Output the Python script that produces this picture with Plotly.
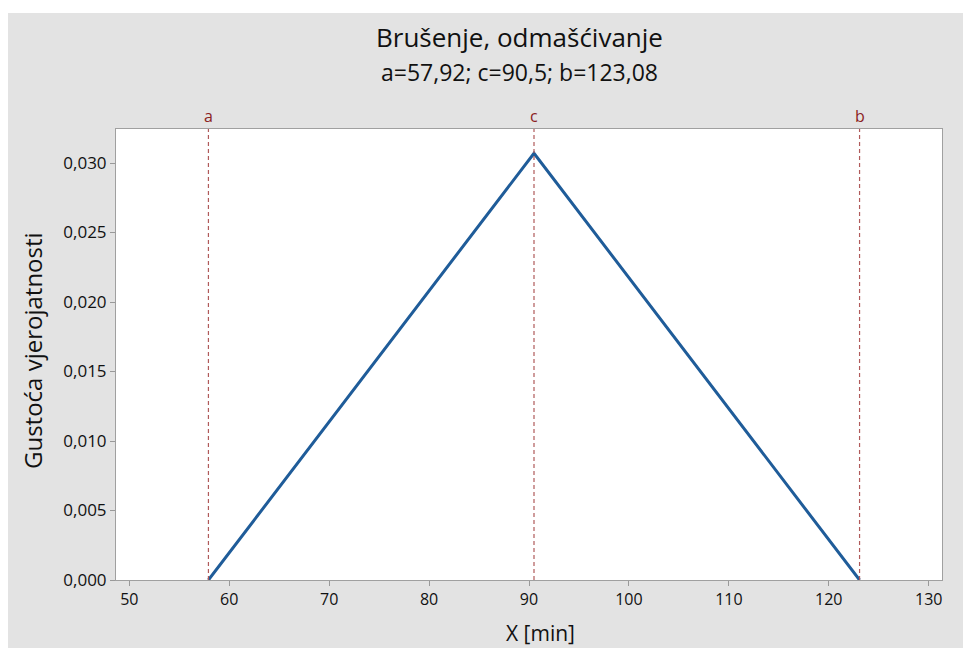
import plotly.graph_objects as go

# Data
x_vals = [57.92, 90.5, 123.08]
density = [0.0, 0.0307, 0.0]
ref_names = ["a", "c", "b"]
ref_x = [57.92, 90.5, 123.08]
x_ticks = [50, 60, 70, 80, 90, 100, 110, 120, 130]
y_ticks = [0.0, 0.005, 0.010, 0.015, 0.020, 0.025, 0.030]

W, H = 963, 648
L, R, T, B = 116, 21, 129, 68
pw, ph = W - L - R, H - T - B

def px_to_paper_x(px):
    return (px - L) / pw

def px_to_paper_y(py):
    return (H - B - py) / ph

FONT = "Open Sans"
GRAY_BG = "#E3E3E3"
REF_COLOR = "#B05A5A"
REF_TEXT = "#8B2222"
LINE_BLUE = "#1F5C99"
TXT = "#111111"

fig = go.Figure()
fig.add_trace(go.Scatter(x=x_vals, y=density, mode="lines",
                         line=dict(color=LINE_BLUE, width=3), showlegend=False,
                         hoverinfo="x+y"))

shapes = []
for rx in ref_x:
    shapes.append(dict(type="line", xref="x", yref="paper", x0=rx, x1=rx, y0=0, y1=1,
                       line=dict(color=REF_COLOR, width=1.2, dash="4px,3px"), layer="above"))
# white page margin strips (top and left)
shapes.append(dict(type="rect", xref="paper", yref="paper",
                   x0=px_to_paper_x(-5), x1=px_to_paper_x(W + 5),
                   y0=px_to_paper_y(13), y1=px_to_paper_y(-5),
                   fillcolor="white", line=dict(width=0), layer="below"))
shapes.append(dict(type="rect", xref="paper", yref="paper",
                   x0=px_to_paper_x(-5), x1=px_to_paper_x(8),
                   y0=px_to_paper_y(H + 5), y1=px_to_paper_y(-5),
                   fillcolor="white", line=dict(width=0), layer="below"))

annotations = []
for name, rx in zip(ref_names, ref_x):
    annotations.append(dict(x=rx, y=px_to_paper_y(116), xref="x", yref="paper",
                            text=name, showarrow=False, yanchor="middle",
                            font=dict(family=FONT, size=16, color=REF_TEXT)))
annotations.append(dict(x=px_to_paper_x(519), y=px_to_paper_y(37), xref="paper", yref="paper",
                        text="Brušenje, odmašćivanje", showarrow=False, yanchor="middle",
                        font=dict(family=FONT, size=26, color=TXT)))
annotations.append(dict(x=px_to_paper_x(519), y=px_to_paper_y(72), xref="paper", yref="paper",
                        text="a=57,92; c=90,5; b=123,08", showarrow=False, yanchor="middle",
                        font=dict(family=FONT, size=23, color=TXT)))
annotations.append(dict(x=px_to_paper_x(540), y=px_to_paper_y(633), xref="paper", yref="paper",
                        text="X [min]", showarrow=False, yanchor="middle",
                        font=dict(family=FONT, size=21, color=TXT)))
annotations.append(dict(x=px_to_paper_x(32), y=px_to_paper_y(351), xref="paper", yref="paper",
                        text="Gustoća vjerojatnosti", showarrow=False, textangle=-90,
                        xanchor="center", yanchor="middle",
                        font=dict(family=FONT, size=24, color=TXT)))

fig.update_layout(
    width=W, height=H,
    margin=dict(l=L, r=R, t=T, b=B),
    paper_bgcolor=GRAY_BG, plot_bgcolor="white",
    separators=",.",
    shapes=shapes, annotations=annotations,
    font=dict(family=FONT, size=15, color=TXT),
    xaxis=dict(range=[48.67, 131.33], tickvals=x_ticks, ticks="outside", ticklen=5,
               tickcolor="#999999", showline=True, linecolor="#A0A0A0", linewidth=1,
               mirror=True, showgrid=False, zeroline=False,
               tickfont=dict(family=FONT, size=16, color=TXT)),
    yaxis=dict(range=[0, 0.03245], tickvals=y_ticks, tickformat=".3f", ticks="outside",
               ticklen=5, tickcolor="#999999", showline=True, linecolor="#A0A0A0",
               linewidth=1, mirror=True, showgrid=False, zeroline=False,
               tickfont=dict(family=FONT, size=17, color=TXT)),
)

fig.write_html("out.html", config={"displayModeBar": False},
               post_script=("document.body.style.margin='0';"
                            "document.body.style.overflow='hidden';"
                            "document.body.style.background='" + GRAY_BG + "';"
                            "document.documentElement.style.background='" + GRAY_BG + "';"))
